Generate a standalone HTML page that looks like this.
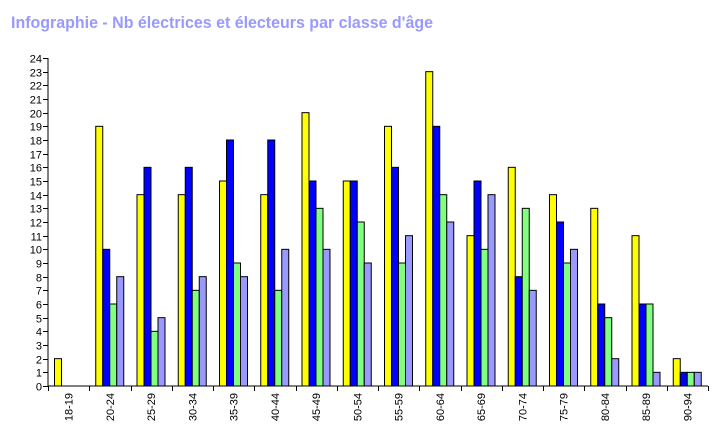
<!DOCTYPE html>
<html><head><meta charset="utf-8"><style>
body{margin:0;background:#fff;width:728px;height:429px;overflow:hidden}
svg{font-family:"Liberation Sans",Arial,sans-serif}
</style></head><body>
<svg id="chart" width="728" height="429" xmlns="http://www.w3.org/2000/svg">
<text x="11" y="28" font-size="17" font-weight="bold" fill="#9999ff" textLength="422" lengthAdjust="spacingAndGlyphs">Infographie - Nb électrices et électeurs par classe d'âge</text>
<g id="plot"></g>
</svg>
<script>
const categories=["18-19","20-24","25-29","30-34","35-39","40-44","45-49","50-54","55-59","60-64","65-69","70-74","75-79","80-84","85-89","90-94"];
const series1=[2,19,14,14,15,14,20,15,19,23,11,16,14,13,11,2];
const series2=[0,10,16,16,18,18,15,15,16,19,15,8,12,6,6,1];
const series3=[0,6,4,7,9,7,13,12,9,14,10,13,9,5,6,1];
const series4=[0,8,5,8,8,10,10,9,11,12,14,7,10,2,1,1];
const yTicks=[0,1,2,3,4,5,6,7,8,9,10,11,12,13,14,15,16,17,18,19,20,21,22,23,24];
const NS="http://www.w3.org/2000/svg";
const g=document.getElementById('plot');
const x0=48,x1=708,y0=386,yTop=58,yMax=24;
const gw=(x1-x0)/categories.length;
function yS(v){return y0-(v/yMax)*(y0-yTop);}
function xS(i){return x0+i*gw;}
function mk(t,a){const e=document.createElementNS(NS,t);for(const k in a)e.setAttribute(k,a[k]);g.appendChild(e);return e;}
const allSeries=[series1,series2,series3,series4];
const colors=["#ffff00","#0000ff","#80ff80","#9999ff"];
const names=["series-1","series-2","series-3","series-4"];
categories.forEach((c,i)=>{
  allSeries.forEach((s,j)=>{
    const v=s[i]; if(!v) return;
    const r=mk('rect',{x:xS(i)+6.5+j*7,y:yS(v),width:7,height:y0-yS(v),fill:colors[j],stroke:'#000','stroke-width':1});
    
    
  });
});
// axes
const ya=mk('line',{x1:x0,y1:yTop,x2:x0,y2:y0,stroke:'#000'});


const xa=mk('line',{x1:x0,y1:y0,x2:x1,y2:y0,stroke:'#000'});


yTicks.forEach(t=>{
  const y=Math.round(yS(t))+0.5;
  const l=mk('line',{x1:x0-5,y1:y,x2:x0,y2:y,stroke:'#000'});
  
  
  const tx=mk('text',{x:x0-6,y:y+4,'font-size':11,'text-anchor':'end',fill:'#000'});
  tx.textContent=t;
  
  
});
for(let i=0;i<=categories.length;i++){
  const x=Math.round(xS(i))+0.5;
  const l=mk('line',{x1:x,y1:y0,x2:x,y2:y0+5,stroke:'#000'});
  
  
}
categories.forEach((c,i)=>{
  const cx=xS(i)+gw/2+4;
  const t=mk('text',{x:cx,y:393,'font-size':11,'text-anchor':'end',fill:'#000',transform:`rotate(-90 ${cx} 393)`});
  t.textContent=c;
  
  
});
</script>
</body></html>
